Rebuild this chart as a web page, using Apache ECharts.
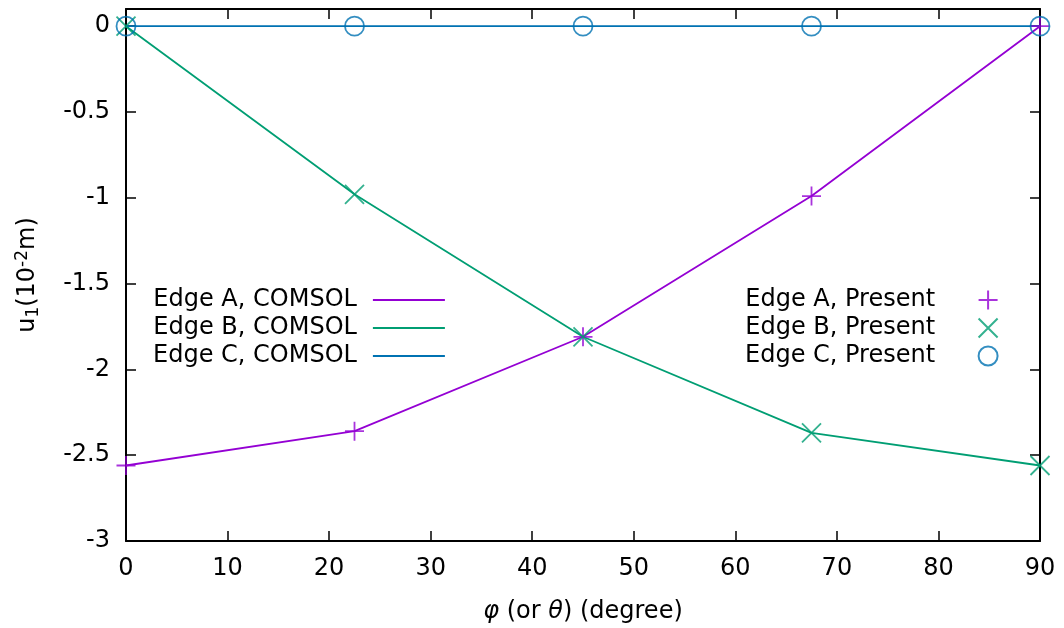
<!DOCTYPE html>
<html>
<head>
<meta charset="utf-8">
<script src="https://cdn.jsdelivr.net/npm/echarts@6/dist/echarts.min.js"></script>
<style>
  html, body { margin: 0; padding: 0; background: #fff; }
  #chart { width: 1064px; height: 628px; }
</style>
</head>
<body>
<div id="chart"></div>
<script>
// Displacement u1 along the three edges versus angle
const angles = [0, 22.5, 45, 67.5, 90];
const edgeA = [-2.56, -2.36, -1.81, -0.99, 0];
const edgeB = [0, -0.98, -1.81, -2.37, -2.56];
const edgeC = [0, 0, 0, 0, 0];

const xTicks = [0, 10, 20, 30, 40, 50, 60, 70, 80, 90];
const yTicks = [-3, -2.5, -2, -1.5, -1, -0.5, 0];

const colA = '#9400d3';
const colB = '#009e73';
const colC = '#0072b2';

const FONT = 'DejaVu Sans';
const FS = 24;

const pairs = vals => angles.map((a, i) => [a, vals[i]]);

const plusPath = 'path://M0,-10L0,10M-10,0L10,0';
const crossPath = 'path://M-10,-10L10,10M-10,10L10,-10';

const lineSeries = (name, vals, color) => ({
  name, type: 'line', data: pairs(vals), showSymbol: false, symbol: 'none',
  lineStyle: { color, width: 1.8 }, itemStyle: { color }, z: 2, silent: true
});
const markSeries = (name, vals, color, symbol) => ({
  name, type: 'scatter', data: pairs(vals), symbol, symbolSize: 19, clip: false,
  itemStyle: { color: 'transparent', borderColor: color, borderWidth: 1.8 },
  z: 3, silent: true
});

const xMin = xTicks[0], xMax = xTicks[xTicks.length - 1];
const yMin = yTicks[0], yMax = 0.1;

const isTick = v => yTicks.some(t => Math.abs(t - v) < 1e-6);

const axisCommon = {
  axisLine: { show: true, onZero: false, lineStyle: { color: '#000', width: 2 } },
  axisTick: { show: true, inside: true, length: 10, lineStyle: { color: '#000', width: 1.5 } },
  splitLine: { show: false }
};

const lineNames = ['Edge A, COMSOL', 'Edge B, COMSOL', 'Edge C, COMSOL'];
const markNames = ['Edge A, Present', 'Edge B, Present', 'Edge C, Present'];

const chart = echarts.init(document.getElementById('chart'), null, { renderer: 'canvas' });
chart.setOption({
  animation: false,
  backgroundColor: '#fff',
  grid: { left: 126, right: 24, top: 9, bottom: 87, containLabel: false, outerBoundsMode: 'none' },
  xAxis: [
    Object.assign({
      type: 'value', min: xMin, max: xMax, interval: 10, position: 'bottom',
      axisLabel: { color: '#000', fontFamily: FONT, fontSize: FS, margin: 16 },
      name: '{i|φ} (or {i|θ}) (degree)', nameLocation: 'middle', nameGap: 59,
      nameTextStyle: {
        color: '#000', fontFamily: FONT, fontSize: FS,
        rich: { i: { fontStyle: 'italic', fontFamily: FONT, fontSize: FS, color: '#000' } }
      }
    }, axisCommon),
    Object.assign({
      type: 'value', min: xMin, max: xMax, interval: 10, position: 'top',
      axisLabel: { show: false }
    }, axisCommon)
  ],
  yAxis: [
    Object.assign({
      type: 'value', min: yMin, max: yMax, interval: 0.5, position: 'left',
      axisLabel: {
        color: '#000', fontFamily: FONT, fontSize: FS, margin: 16,
        formatter: v => isTick(v) ? String(Math.round(v * 10) / 10) : ''
      },
      name: 'u{sub|1}(10{sup|-2}m)', nameLocation: 'middle', nameGap: 84,
      nameTextStyle: {
        color: '#000', fontFamily: FONT, fontSize: FS,
        rich: {
          sub: { fontFamily: FONT, fontSize: 17, color: '#000', verticalAlign: 'bottom', padding: [9, 0, 0, 0] },
          sup: { fontFamily: FONT, fontSize: 17, color: '#000', verticalAlign: 'top', padding: [0, 0, 11, 0] }
        }
      }
    }, axisCommon),
    Object.assign({
      type: 'value', min: yMin, max: yMax, interval: 0.5, position: 'right',
      axisLabel: { show: false }
    }, axisCommon)
  ],
  legend: [
    {
      orient: 'vertical', align: 'right', left: 148, top: 283,
      itemWidth: 72, itemHeight: 2, itemGap: 4,
      textStyle: { color: '#000', fontFamily: FONT, fontSize: FS, lineHeight: 24, padding: [0, 11, 0, 0] },
      data: lineNames.map(name => ({ name, icon: 'rect' })),
      selectedMode: false
    },
    {
      orient: 'vertical', align: 'right', left: 740, top: 283,
      itemWidth: 20, itemHeight: 19, itemGap: 4,
      textStyle: { color: '#000', fontFamily: FONT, fontSize: FS, lineHeight: 24, padding: [0, 38, 0, 0] },
      data: markNames,
      selectedMode: false
    }
  ],
  series: [
    lineSeries(lineNames[0], edgeA, colA),
    lineSeries(lineNames[1], edgeB, colB),
    lineSeries(lineNames[2], edgeC, colC),
    markSeries(markNames[0], edgeA, colA, plusPath),
    markSeries(markNames[1], edgeB, colB, crossPath),
    markSeries(markNames[2], edgeC, colC, 'circle')
  ]
});
</script>
</body>
</html>
